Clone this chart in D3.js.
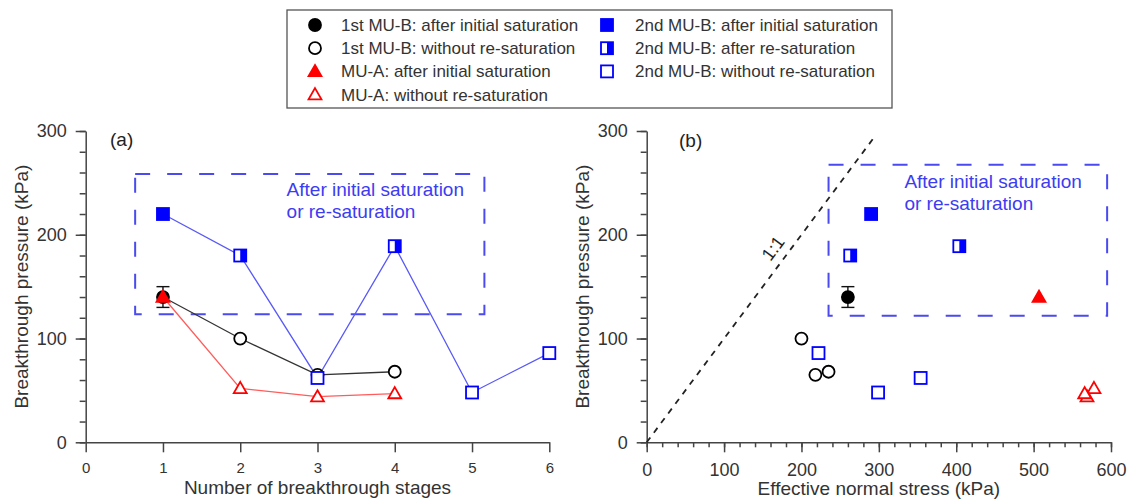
<!DOCTYPE html>
<html>
<head>
<meta charset="utf-8">
<script src="https://cdn.jsdelivr.net/npm/d3@7"></script>
<style>
  body { margin: 0; background: #fff; }
  svg { font-family: "Liberation Sans", Arial, sans-serif; }
  .axis path, .axis line { stroke: #444; stroke-width: 1.5; }
  .axis text { fill: #333; }
</style>
</head>
<body>
<svg width="1129" height="503"></svg>
<script>
// ---- data ----
// panel (a): breakthrough pressure (kPa) per breakthrough stage
const stages1stMUB = [1, 2, 3, 4];
const pressure1stMUB = [140, 100, 65, 68];
const state1stMUB = ['initial', 'none', 'none', 'none'];
const error1stMUB = [10, 0, 0, 0];

const stagesMUA = [1, 2, 3, 4];
const pressureMUA = [140, 52, 44, 47];
const stateMUA = ['initial', 'none', 'none', 'none'];

const stages2ndMUB = [1, 2, 3, 4, 5, 6];
const pressure2ndMUB = [220, 180, 62, 189, 48, 86];
const state2ndMUB = ['initial', 'resat', 'none', 'resat', 'none', 'none'];

// panel (b): effective normal stress (kPa) for the same tests
const stress1stMUB = [260, 200, 218, 235];
const stressMUA = [507, 578, 569, 566];
const stress2ndMUB = [290, 263, 354, 404, 299, 222];

// ticks
const xTicksA = [0, 1, 2, 3, 4, 5, 6];
const xTicksB = [0, 100, 200, 300, 400, 500, 600];
const yTicks = [0, 100, 200, 300];

const legendLeft = [
  ['circle', 'initial', '1st MU-B: after initial saturation'],
  ['circle', 'none', '1st MU-B: without re-saturation'],
  ['tri', 'initial', 'MU-A: after initial saturation'],
  ['tri', 'none', 'MU-A: without re-saturation']
];
const legendRight = [
  ['square', 'initial', '2nd MU-B: after initial saturation'],
  ['square', 'resat', '2nd MU-B: after re-saturation'],
  ['square', 'none', '2nd MU-B: without re-saturation']
];

const svg = d3.select('svg');
const blue = '#0000ff', red = '#ff0000';

// draw one marker of a given shape / state
const marker = (g, shape, state, cx, cy) => {
  if (shape === 'circle') {
    g.append('circle').attr('cx', cx).attr('cy', cy).attr('r', 6)
      .attr('fill', state === 'none' ? '#fff' : '#000')
      .attr('stroke', '#000').attr('stroke-width', 1.8);
  } else if (shape === 'tri') {
    g.append('path')
      .attr('d', d3.symbol(d3.symbolTriangle, 72)())
      .attr('transform', `translate(${cx},${cy + 1})`)
      .attr('fill', state === 'none' ? '#fff' : red)
      .attr('stroke', red).attr('stroke-width', 1.8);
  } else {
    const s = 12;
    g.append('rect').attr('x', cx - s / 2).attr('y', cy - s / 2)
      .attr('width', s).attr('height', s)
      .attr('fill', state === 'initial' ? blue : '#fff');
    if (state === 'resat') {
      g.append('rect').attr('x', cx).attr('y', cy - s / 2)
        .attr('width', s / 2).attr('height', s).attr('fill', blue);
    }
    g.append('rect').attr('x', cx - s / 2).attr('y', cy - s / 2)
      .attr('width', s).attr('height', s)
      .attr('fill', 'none').attr('stroke', blue).attr('stroke-width', 1.8);
  }
};

// ---- shared y scale ----
const y = d3.scaleLinear().domain([0, 300]).range([442.3, 131]);

const drawYAxis = (x0, label) => {
  svg.append('g').attr('class', 'axis')
    .attr('transform', `translate(${x0},0)`)
    .call(d3.axisLeft(y).tickValues(d3.range(0, 301, 20)).tickSize(6).tickFormat(''))
    .call(g => g.select('.domain').remove());
  const ya = svg.append('g').attr('class', 'axis')
    .attr('transform', `translate(${x0},0)`)
    .call(d3.axisLeft(y).tickValues(yTicks).tickSize(10).tickSizeOuter(0).tickPadding(9));
  ya.selectAll('text').attr('font-size', 18);
  svg.append('text')
    .attr('transform', `translate(${x0 - 64},${(y(0) + y(300)) / 2}) rotate(-90)`)
    .attr('text-anchor', 'middle').attr('dy', '0.35em')
    .attr('font-size', 19).attr('fill', '#333')
    .text(label);
};

const drawBox = (xs, x0, x1, y0, y1) => {
  svg.append('rect')
    .attr('x', xs(x0)).attr('y', y(y1))
    .attr('width', xs(x1) - xs(x0)).attr('height', y(y0) - y(y1))
    .attr('fill', 'none').attr('stroke', '#4a4af0').attr('stroke-width', 2)
    .attr('stroke-dasharray', '15,17');
};

const drawNote = (px, py) => {
  const t = svg.append('text').attr('font-size', 19).attr('fill', '#3c3cf2');
  t.append('tspan').attr('x', px).attr('y', py).text('After initial saturation');
  t.append('tspan').attr('x', px).attr('y', py + 22).text('or re-saturation');
};

// ================= panel (a) =================
const xA = d3.scaleLinear().domain([0, 6]).range([85.7, 549.3]);

drawYAxis(xA(0), 'Breakthrough pressure (kPa)');
const xaA = svg.append('g').attr('class', 'axis')
  .attr('transform', `translate(0,${y(0)})`)
  .call(d3.axisBottom(xA).tickValues(xTicksA).tickFormat(d3.format('d'))
    .tickSize(10).tickSizeOuter(0).tickPadding(10));
xaA.selectAll('text').attr('font-size', 15);
svg.append('text').attr('x', xA(3)).attr('y', 494)
  .attr('text-anchor', 'middle').attr('font-size', 19).attr('fill', '#333')
  .text('Number of breakthrough stages');
svg.append('text').attr('x', 110).attr('y', 146).attr('font-size', 19).attr('fill', '#222').text('(a)');

drawBox(xA, 0.64, 5.16, 123.5, 258.5);
drawNote(xA(2.6), 195.5);

const line = d3.line().x(d => d[0]).y(d => d[1]);
const gA = svg.append('g');
gA.append('path')
  .attr('d', line(stages2ndMUB.map((s, i) => [xA(s), y(pressure2ndMUB[i])])))
  .attr('fill', 'none').attr('stroke', '#5858f8').attr('stroke-width', 1.3);
gA.append('path')
  .attr('d', line(stages1stMUB.map((s, i) => [xA(s), y(pressure1stMUB[i])])))
  .attr('fill', 'none').attr('stroke', '#333').attr('stroke-width', 1.3);
gA.append('path')
  .attr('d', line(stagesMUA.map((s, i) => [xA(s), y(pressureMUA[i])])))
  .attr('fill', 'none').attr('stroke', '#ff5c5c').attr('stroke-width', 1.3);

const errorBar = (g, cx, v, e) => {
  g.append('line').attr('x1', cx).attr('x2', cx).attr('y1', y(v - e)).attr('y2', y(v + e))
    .attr('stroke', '#111').attr('stroke-width', 1.4);
  [v - e, v + e].forEach(w => g.append('line')
    .attr('x1', cx - 6.5).attr('x2', cx + 6.5).attr('y1', y(w)).attr('y2', y(w))
    .attr('stroke', '#111').attr('stroke-width', 1.4));
};

stages1stMUB.forEach((s, i) => {
  if (error1stMUB[i]) errorBar(gA, xA(s), pressure1stMUB[i], error1stMUB[i]);
  marker(gA, 'circle', state1stMUB[i], xA(s), y(pressure1stMUB[i]));
});
stagesMUA.forEach((s, i) => marker(gA, 'tri', stateMUA[i], xA(s), y(pressureMUA[i])));
stages2ndMUB.forEach((s, i) => marker(gA, 'square', state2ndMUB[i], xA(s), y(pressure2ndMUB[i])));

// ================= panel (b) =================
const xB = d3.scaleLinear().domain([0, 600]).range([646.7, 1111]);

drawYAxis(xB(0), 'Breakthrough pressure (kPa)');
svg.append('g').attr('class', 'axis')
  .attr('transform', `translate(0,${y(0)})`)
  .call(d3.axisBottom(xB).tickValues(d3.range(0, 601, 20)).tickSize(5).tickFormat(''))
  .call(g => g.select('.domain').remove());
const xaB = svg.append('g').attr('class', 'axis')
  .attr('transform', `translate(0,${y(0)})`)
  .call(d3.axisBottom(xB).tickValues(xTicksB).tickSize(10).tickSizeOuter(0).tickPadding(11));
xaB.selectAll('text').attr('font-size', 18);
svg.append('text').attr('x', (xB(0) + xB(600)) / 2).attr('y', 495)
  .attr('text-anchor', 'middle').attr('font-size', 19).attr('fill', '#333')
  .text('Effective normal stress (kPa)');
svg.append('text').attr('x', 679).attr('y', 147).attr('font-size', 19).attr('fill', '#222').text('(b)');

// 1:1 reference line
svg.append('line')
  .attr('x1', xB(0)).attr('y1', y(0)).attr('x2', xB(295)).attr('y2', y(295))
  .attr('stroke', '#222').attr('stroke-width', 1.8).attr('stroke-dasharray', '6,6');
const ang = Math.atan2(y(0) - y(100), xB(100) - xB(0)) * 180 / Math.PI;
svg.append('text')
  .attr('transform', `translate(${xB(163)},${y(187)}) rotate(${-ang})`)
  .attr('text-anchor', 'middle').attr('dy', '0.35em')
  .attr('font-size', 18).attr('fill', '#222').text('1:1');

drawBox(xB, 235, 595, 122, 267.5);
drawNote(xB(333), 188);

const gB = svg.append('g');
stress1stMUB.forEach((s, i) => {
  if (error1stMUB[i]) errorBar(gB, xB(s), pressure1stMUB[i], error1stMUB[i]);
  marker(gB, 'circle', state1stMUB[i], xB(s), y(pressure1stMUB[i]));
});
stressMUA.forEach((s, i) => marker(gB, 'tri', stateMUA[i], xB(s), y(pressureMUA[i])));
stress2ndMUB.forEach((s, i) => marker(gB, 'square', state2ndMUB[i], xB(s), y(pressure2ndMUB[i])));

// ================= legend =================
const lg = svg.append('g');
lg.append('rect').attr('x', 287).attr('y', 10).attr('width', 605).attr('height', 98)
  .attr('fill', '#fff').attr('stroke', '#555').attr('stroke-width', 1.3);
const rowY = i => 25 + i * 23.2;
legendLeft.forEach((d, i) => {
  marker(lg, d[0], d[1], 315, rowY(i));
  lg.append('text').attr('x', 341).attr('y', rowY(i)).attr('dy', '0.35em')
    .attr('font-size', 17).attr('fill', '#333').text(d[2]);
});
legendRight.forEach((d, i) => {
  marker(lg, d[0], d[1], 607, rowY(i));
  lg.append('text').attr('x', 635).attr('y', rowY(i)).attr('dy', '0.35em')
    .attr('font-size', 17).attr('fill', '#333').text(d[2]);
});
</script>
</body>
</html>
